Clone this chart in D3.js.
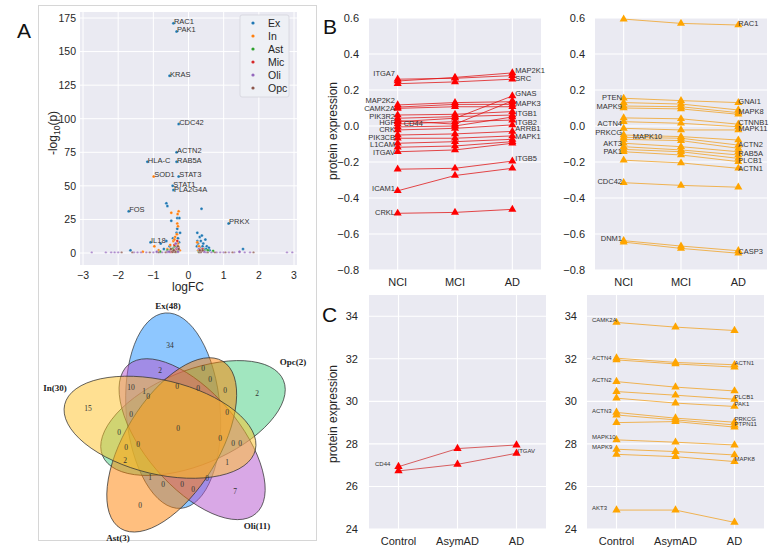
<!DOCTYPE html>
<html><head><meta charset="utf-8">
<script src="https://cdn.jsdelivr.net/npm/d3@7"></script>
<style>
body{margin:0;background:#fff}
svg{display:block;font-family:"Liberation Sans",Arial,sans-serif}
</style>
</head><body>
<svg id="fig" width="778" height="553"></svg>
<script>
// ---------------- DATA ----------------
// Panel A volcano: [logFC, -log10 p]
const cellTypes = ["Ex", "In", "Ast", "Mic", "Oli", "Opc"];
const typeColors = ["#1f77b4", "#ff7f0e", "#2ca02c", "#d62728", "#9467bd", "#8c564b"];
const exPoints = [[-0.43,171],[-0.34,165],[-0.54,132],[-0.28,96],[-0.34,75],[-1.17,68],[-0.34,68],[-0.28,57],[-0.45,50],[-0.43,47],[-1.7,31],[1.14,22],[-1.08,8],
  [-0.63,37],[-0.6,35],[0.37,33],[-0.49,24],[-0.32,26],[-0.26,26],[-0.32,18],[-0.34,15],[0.25,15],[0.32,12],[0.38,13],[0.35,9],[0.42,7],[0.48,10],[0.52,5],[0.25,9],[0.24,5],
  [-0.24,15],[-0.79,7],[-0.63,9],[-0.44,11],[-0.54,5],[-0.3,11],[-0.27,8],[0.3,3],[0.45,3],[0.6,2],[-1.65,2],[-0.7,3],[-0.4,4],[1.55,3],[0.28,2],
  [-0.5,2],[-0.42,4],[-0.38,6],[-0.3,3],[0.33,4],[0.4,5],[0.5,3],[0.58,4],[0.27,7],[0.36,2]];
const inPoints = [[-0.99,57],[-0.49,30],[-0.28,31],[-0.31,29],[-0.32,22],[-0.3,20],[-0.38,12],[-0.43,9],[-0.52,6],[-0.97,5],[0.25,8],[0.3,5],[-0.28,4],[-0.6,3],[-0.25,2],[-0.35,6],[-0.45,3],[-1.3,1],[-0.85,2],
  [-0.4,10],[-0.33,14],[-0.36,4],[-0.3,7],[0.28,2],[0.32,3],[-0.55,2]];
const astPoints = [[-0.3,2],[-0.6,2],[0.7,1.5],[-0.45,3],[0.3,1],[-0.8,1],[0.55,2],[-0.35,1],[-0.38,5],[0.45,2]];
const micPoints = [[-0.4,6],[-0.35,3],[0.35,2],[-0.5,1],[-0.32,9],[0.4,3]];
const oliPoints = [[-0.33,4],[-0.4,2],[0.3,3],[0.45,1],[-0.9,1],[-0.6,1],[-0.36,7],[-2.75,0.5],[-2.35,0.5],[-2.2,0.5],[-2.1,0.5],[-2.0,0.5],[-1.55,0.5],[-1.45,0.5],[-1.35,0.5],[-1.2,0.5],[-1.0,0.5],[-0.75,0.5],[-0.55,1],[-0.3,1],[0.35,0.5],[0.5,0.5],[0.65,0.5],[0.8,0.5],[0.9,0.5],[1.0,0.5],[1.15,0.5],[1.3,0.5],[1.45,1],[1.6,0.5],[1.75,0.5],[2.8,0.5],[2.95,0.5]];
const opcPoints = [[-0.38,1],[0.35,1],[-0.3,5],[-0.5,3],[0.4,2],[-1.9,0.5],[-1.6,0.5],[-1.1,0.5],[-0.85,0.5],[-0.65,0.5],[0.55,0.5],[0.75,0.5],[1.05,0.5],[1.25,0.5],[1.85,0.5],[-0.45,1],[0.3,0.5],
  [-0.28,3],[-0.42,2],[0.32,2]];
const volcanoLabels = [["RAC1",-0.43,171],["PAK1",-0.34,165],["KRAS",-0.54,132],["CDC42",-0.28,96],["ACTN2",-0.34,75],["HLA-C",-1.17,68],["RAB5A",-0.34,68],["SOD1",-0.99,57],["STAT3",-0.28,57],["STAT1",-0.45,50],["PLA2G4A",-0.43,46],["FOS",-1.7,31],["PRKX",1.14,22],["IL18",-1.08,8]];
const volcanoXTicks = [-3,-2,-1,0,1,2,3];
const volcanoYTicks = [0,25,50,75,100,125,150,175];

// Venn
const vennSets = ["Ex", "Opc", "Oli", "Ast", "In"];
const vennSizes = [48, 2, 11, 3, 30];
const vennColors = ["#1E90FF", "#43CD80", "#B452CD", "#FF7F00", "#FFC125"];
const vennCounts = [34,15,0,7,2,2,10,1,2,1,1,0,0,0,0,0,0,0,0,0,0,0,0,0,0,0,0,0,0,0];

// Panel B / C
const stagesB = ["NCI", "MCI", "AD"];
const stagesC = ["Control", "AsymAD", "AD"];
const bTicks = [-0.8,-0.6,-0.4,-0.2,0.0,0.2,0.4,0.6];
const cTicks = [24,26,28,30,32,34];
const bLeftSeries = [[0.26,0.265,0.28],[0.25,0.27,0.295],[0.235,0.245,0.26],[0.117,0.13,0.135],[0.098,0.107,0.107],[0.105,0.12,0.12],
  [0.024,0.043,0.167],[0.03,0.01,0.14],[0.061,0.065,0.08],[0.043,0.052,0.061],[0.011,0.024,0.033],[-0.005,0.0,0.05],[-0.022,-0.013,0.006],
  [-0.05,-0.044,-0.03],[-0.068,-0.068,-0.055],[-0.096,-0.087,-0.074],[-0.118,-0.111,-0.087],[-0.143,-0.133,-0.096],
  [-0.24,-0.235,-0.195],[-0.36,-0.275,-0.235],[-0.485,-0.48,-0.463]];
const bLeftStartLabels = [["ITGA7",0.294],["MAP2K2",0.144],["CAMK2A",0.1],["PIK3R2",0.056],["HGF",0.022],["CRK",-0.017],["PIK3CB",-0.061],["L1CAM",-0.1],["ITGAV",-0.144],["ICAM1",-0.344],["CRKL",-0.478]];
const bLeftEndLabels = [["MAP2K1",0.311],["SRC",0.267],["GNAS",0.183],["MAPK3",0.128],["ITGB1",0.072],["ITGB2",0.022],["ARRB1",-0.011],["MAPK1",-0.056],["ITGB5",-0.178]];
const bLeftMidLabels = [["CD44",0.017]];
const bRightSeries = [[0.594,0.57,0.561],[0.154,0.141,0.13],[0.13,0.122,0.089],[0.111,0.107,0.074],[0.1,0.095,0.065],[0.045,0.04,0.01],
  [0.024,0.015,-0.004],[-0.013,-0.022,-0.022],[-0.05,-0.059,-0.078],[-0.063,-0.068,-0.106],[-0.074,-0.081,-0.124],[-0.096,-0.115,-0.143],
  [-0.115,-0.133,-0.161],[-0.13,-0.143,-0.18],[-0.143,-0.161,-0.198],[-0.19,-0.205,-0.235],[-0.315,-0.33,-0.34],[-0.637,-0.667,-0.693],[-0.645,-0.68,-0.707]];
const bRightStartLabels = [["PTEN",0.161],["MAPK9",0.111],["ACTN4",0.017],["PRKCG",-0.033],["AKT3",-0.094],["PAK1",-0.139],["CDC42",-0.306],["DNM1",-0.622]];
const bRightEndLabels = [["RAC1",0.572],["GNAI1",0.139],["MAPK8",0.083],["CTNNB1",0.022],["MAPK11",-0.011],["ACTN2",-0.1],["RAB5A",-0.15],["PLCB1",-0.189],["ACTN1",-0.233],["CASP3",-0.694]];
const bRightMidLabels = [["MAPK10",-0.056]];
const cLeftSeries = [[26.93,27.78,27.95],[26.73,27.04,27.56]];
const cLeftStartLabels = [["CD44",27.06]];
const cLeftEndLabels = [["ITGAV",27.67]];
const cRightSeries = [[33.71,33.49,33.33],[32.03,31.83,31.72],[31.95,31.76,31.61],[30.93,30.67,30.49],[30.46,30.29,30.10],[30.15,29.92,29.76],
  [29.48,29.21,29.02],[29.36,29.13,28.89],[29.0,29.05,28.79],[28.19,28.08,27.95],[27.75,27.64,27.48],[27.51,27.40,27.17],[24.89,24.89,24.31]];
const cRightStartLabels = [["CAMK2A",33.84],["ACTN4",32.05],["ACTN2",31.01],["ACTN3",29.55],["MAPK10",28.33],["MAPK9",27.86],["AKT3",24.99]];
const cRightEndLabels = [["ACTN1",31.81],["PLCB1",30.21],["PAK1",29.88],["PRKCG",29.18],["PTPN11",28.94],["MAPK8",27.29]];

// ---------------- DRAW ----------------
const svg = d3.select("#fig");
const BG = "#eaeaf2", TXT = "#262626";
const minus = s => String(s).replace("-", "\u2212");

// Panel A frame
svg.append("rect").attr("x", 38.5).attr("y", 5.5).attr("width", 278).attr("height", 535)
  .attr("fill", "#fff").attr("stroke", "#d6d6d6").attr("stroke-width", 1);
const letter = (t, x, y) => svg.append("text").attr("x", x).attr("y", y).attr("font-size", 21).attr("fill", "#111").text(t);
letter("A", 17, 38); letter("B", 323, 34); letter("C", 322, 322);

// ---- Volcano ----
const xV = d3.scaleLinear([-3, 3], [83, 294]);
const yV = d3.scaleLinear([0, 175], [253, 18]);
const gV = svg.append("g");
gV.append("rect").attr("x", 80).attr("y", 12).attr("width", 217).attr("height", 253).attr("fill", BG);
gV.selectAll(".vx").data(volcanoXTicks).join("line").attr("x1", d => xV(d)).attr("x2", d => xV(d)).attr("y1", 12).attr("y2", 265).attr("stroke", "#fff").attr("stroke-width", 1);
gV.selectAll(".vy").data(volcanoYTicks).join("line").attr("x1", 80).attr("x2", 297).attr("y1", d => yV(d)).attr("y2", d => yV(d)).attr("stroke", "#fff").attr("stroke-width", 1);
gV.selectAll(".vxt").data(volcanoXTicks).join("text").attr("x", d => xV(d)).attr("y", 279).attr("text-anchor", "middle").attr("font-size", 10.5).attr("fill", TXT).text(d => minus(d));
gV.selectAll(".vyt").data(volcanoYTicks).join("text").attr("x", 76).attr("y", d => yV(d) + 3.8).attr("text-anchor", "end").attr("font-size", 10.5).attr("fill", TXT).text(d => d);
gV.append("text").attr("x", 188).attr("y", 291).attr("text-anchor", "middle").attr("font-size", 12).attr("fill", TXT).text("logFC");
const yl = gV.append("text").attr("transform", "translate(57,133) rotate(-90)").attr("text-anchor", "middle").attr("font-size", 12).attr("fill", TXT);
yl.append("tspan").text("-log");
yl.append("tspan").attr("font-size", 8.5).attr("dy", 3).text("10");
yl.append("tspan").attr("dy", -3).text("(p)");
const allPts = [exPoints, inPoints, astPoints, micPoints, oliPoints, opcPoints];
allPts.forEach((pts, i) => {
  gV.selectAll(".p" + i).data(pts).join("circle").attr("cx", d => xV(d[0])).attr("cy", d => yV(d[1])).attr("r", d => d[1] < 1 ? 1.2 : 1.5)
    .attr("fill", typeColors[i]).attr("fill-opacity", d => d[1] < 1 ? 0.75 : 1).attr("stroke", "#fff").attr("stroke-width", 0.3);
});
gV.selectAll(".vl").data(volcanoLabels).join("text").attr("x", d => xV(d[1]) + 0.5).attr("y", d => yV(d[2]) + 1)
  .attr("font-size", 7.5).attr("fill", "#333").text(d => d[0]);
// legend
const lg = gV.append("g");
lg.append("rect").attr("x", 240).attr("y", 15).attr("width", 49).attr("height", 82).attr("rx", 2).attr("fill", "#eef0f5").attr("stroke", "#d4d4dc").attr("stroke-width", 0.8);
cellTypes.forEach((t, i) => {
  lg.append("circle").attr("cx", 253).attr("cy", 23 + i * 13).attr("r", 1.6).attr("fill", typeColors[i]);
  lg.append("text").attr("x", 268).attr("y", 27 + i * 13).attr("font-size", 10.5).attr("fill", TXT).text(t);
});

// ---- Venn ----
const VC = [178, 428], VA = 98, VB = 47, VD = 18, th0 = -95.6;
const gVenn = svg.append("g");
const ell = vennSets.map((s, k) => {
  const th = th0 + 72 * k, off = (th - 10) * Math.PI / 180;
  return {name: s, cx: VC[0] + VD * Math.cos(off), cy: VC[1] + VD * Math.sin(off), rot: th + 1, color: vennColors[k], size: vennSizes[k]};
});
gVenn.selectAll("ellipse").data(ell).join("ellipse").attr("rx", VA).attr("ry", VB)
  .attr("transform", d => `translate(${d.cx},${d.cy}) rotate(${d.rot})`)
  .attr("fill", d => d.color).attr("fill-opacity", 0.5).attr("stroke", "#333").attr("stroke-width", 0.7);
const setLabelPos = [[168,309],[293,365],[257,529],[118,541],[55,391]];
gVenn.selectAll(".sl").data(ell).join("text").attr("x", (d, i) => setLabelPos[i][0]).attr("y", (d, i) => setLabelPos[i][1])
  .attr("text-anchor", "middle").attr("font-family", "Liberation Serif,serif").attr("font-weight", "bold").attr("font-size", 9).attr("fill", "#222")
  .text(d => `${d.name}(${d.size})`);
const regionPos = [[170,345],[88,408],[140,505],[235,491],[257,393],[160,370],[131,387],[144,391],[125,460],[150,477],[227,462],[178,428],
  [203,368],[177,386],[198,388],[210,379],[225,390],[148,396],[131,414],[227,412],[119,432],[220,438],[233,443],[240,443],[126,447],[138,444],
  [163,484],[182,484],[193,489],[207,478]];
gVenn.selectAll(".rc").data(vennCounts).join("text").attr("x", (d, i) => regionPos[i][0]).attr("y", (d, i) => regionPos[i][1] + 2.5)
  .attr("text-anchor", "middle").attr("font-family", "Liberation Serif,serif").attr("font-size", 7.5).attr("fill", "#333").text(d => d);

// ---- Line panels ----
function linePanel(opt) {
  const g = svg.append("g");
  const x = d3.scaleLinear([-0.5, 2.5], [opt.x0, opt.x1]);
  const y = d3.scaleLinear(opt.domain, [opt.yb, opt.yt]);
  g.append("rect").attr("x", opt.x0).attr("y", opt.yt).attr("width", opt.x1 - opt.x0).attr("height", opt.yb - opt.yt).attr("fill", BG);
  g.selectAll(".gy").data(opt.ticks).join("line").attr("x1", opt.x0).attr("x2", opt.x1).attr("y1", d => y(d)).attr("y2", d => y(d)).attr("stroke", "#fff").attr("stroke-width", 1.1);
  g.selectAll(".gx").data(opt.cats).join("line").attr("x1", (d, i) => x(i)).attr("x2", (d, i) => x(i)).attr("y1", opt.yt).attr("y2", opt.yb).attr("stroke", "#fff").attr("stroke-width", 1.1);
  g.selectAll(".ty").data(opt.ticks).join("text").attr("x", opt.tickX).attr("y", d => y(d) + 4).attr("text-anchor", "end").attr("font-size", 11).attr("fill", TXT).text(opt.fmt);
  g.selectAll(".tx").data(opt.cats).join("text").attr("x", (d, i) => x(i)).attr("y", opt.yb + 16).attr("text-anchor", "middle").attr("font-size", 11).attr("fill", TXT).text(d => d);
  if (opt.ylab) g.append("text").attr("transform", `translate(${opt.ylabX},${opt.ylabY}) rotate(-90)`).attr("text-anchor", "middle").attr("font-size", 12).attr("fill", TXT).text("protein expression");
  const line = d3.line().x((d, i) => x(i)).y(d => y(d));
  g.selectAll(".ln").data(opt.series).join("path").attr("d", line).attr("fill", "none").attr("stroke", opt.lineColor).attr("stroke-width", 0.9).attr("stroke-opacity", 0.85);
  const sym = d3.symbol(d3.symbolTriangle, opt.msize);
  opt.series.forEach(s => {
    g.selectAll(null).data(s).join("path").attr("d", sym).attr("transform", (d, i) => `translate(${x(i)},${y(d)})`).attr("fill", opt.markColor);
  });
  const lab = (arr, xpos, anchor) => g.selectAll(null).data(arr).join("text").attr("x", xpos).attr("y", d => y(d[1]) + opt.lfs * 0.36)
    .attr("text-anchor", anchor).attr("font-size", opt.lfs).attr("fill", "#333").text(d => d[0]);
  lab(opt.startLabels, opt.startX, opt.startAnchor);
  lab(opt.endLabels, x(2) + opt.endDx, "start");
  if (opt.midLabels) lab(opt.midLabels, x(0) + opt.midDx, "start");
}
const fmtB = d => minus(d3.format(".1f")(d));
linePanel({x0: 369, x1: 541, yt: 18, yb: 270, domain: [-0.8, 0.6], ticks: bTicks, fmt: fmtB, tickX: 359, cats: stagesB, ylab: true, ylabX: 337, ylabY: 131,
  series: bLeftSeries, lineColor: "#e01010", markColor: "#ff0000", msize: 28, lfs: 7.5,
  startLabels: bLeftStartLabels, startX: 395, startAnchor: "end", endLabels: bLeftEndLabels, endDx: 3, midLabels: bLeftMidLabels, midDx: 6});
linePanel({x0: 595, x1: 767, yt: 18, yb: 270, domain: [-0.8, 0.6], ticks: bTicks, fmt: fmtB, tickX: 585, cats: stagesB, ylab: false,
  series: bRightSeries, lineColor: "#f0a020", markColor: "#ffa500", msize: 28, lfs: 7.5,
  startLabels: bRightStartLabels, startX: 622, startAnchor: "end", endLabels: bRightEndLabels, endDx: 0, midLabels: bRightMidLabels, midDx: 9});
linePanel({x0: 369, x1: 546, yt: 295, yb: 529, domain: [24, 35], ticks: cTicks, fmt: d => d, tickX: 358, cats: stagesC, ylab: true, ylabX: 337, ylabY: 414,
  series: cLeftSeries, lineColor: "#d03030", markColor: "#ff0000", msize: 30, lfs: 6,
  startLabels: cLeftStartLabels, startX: 375, startAnchor: "start", endLabels: cLeftEndLabels, endDx: 1});
linePanel({x0: 587, x1: 764, yt: 295, yb: 529, domain: [24, 35], ticks: cTicks, fmt: d => d, tickX: 577, cats: stagesC, ylab: false,
  series: cRightSeries, lineColor: "#f0a020", markColor: "#ffa500", msize: 30, lfs: 6,
  startLabels: cRightStartLabels, startX: 592, startAnchor: "start", endLabels: cRightEndLabels, endDx: 0});
</script>
</body></html>
